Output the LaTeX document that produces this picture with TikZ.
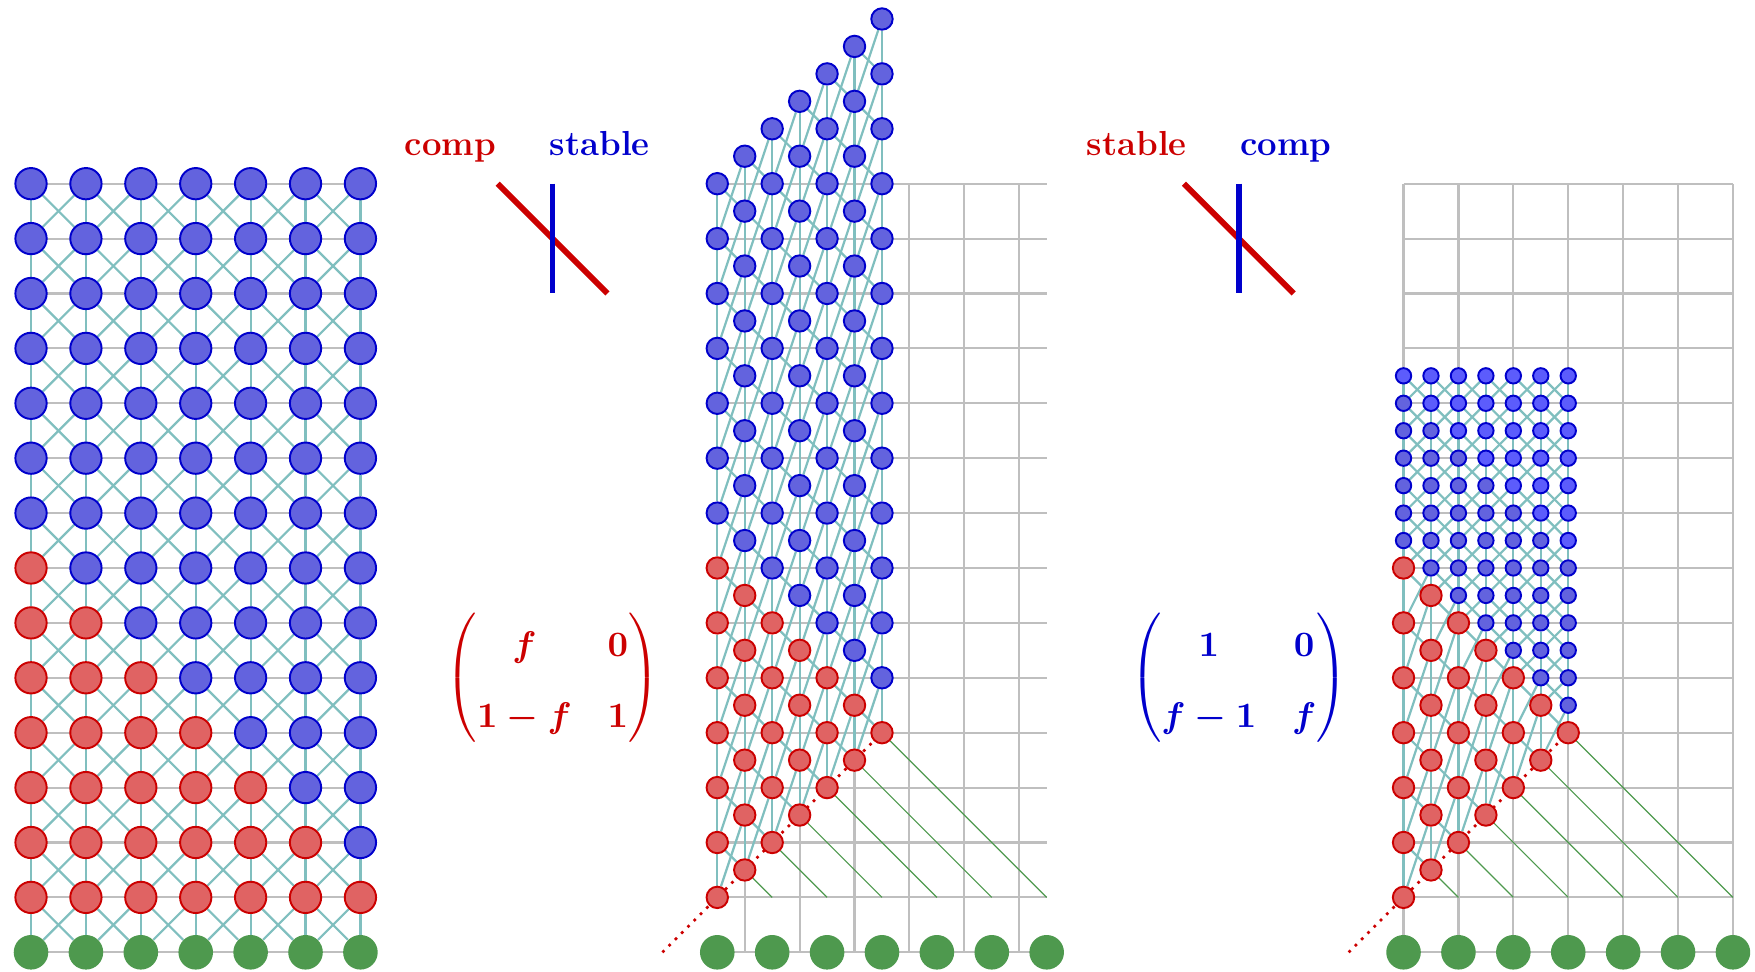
\documentclass[tikz,border=0pt]{standalone}
\usepackage{amsmath}
\usetikzlibrary{backgrounds}
\definecolor{cRedL}{RGB}{204,0,0}
\definecolor{cBlueL}{RGB}{0,0,204}
\definecolor{cRed}{RGB}{224,99,99}
\definecolor{cBlue}{RGB}{99,99,222}
\definecolor{cBlueB}{RGB}{92,92,252}
\definecolor{cGreen}{RGB}{78,153,78}
\definecolor{cBond}{RGB}{128,191,191}
\definecolor{cGrid}{RGB}{191,191,191}
\tikzset{
  site/.style={circle, inner sep=0pt, line width=1pt},
  siteL/.style={site, minimum size=5.7mm},
  siteS/.style={site, minimum size=3.9mm},
  siteT/.style={site, minimum size=2.8mm},
  ground/.style={circle, inner sep=0pt, fill=cGreen, minimum size=6.3mm},
  bond/.style={draw=cBond, line width=1.15pt},
  gridline/.style={draw=cGrid, line width=1.1pt},
  shiftline/.style={draw=cGreen, line width=0.6pt},
  cutline/.style={draw=cRedL, line width=1.4pt, dash pattern=on 1.4pt off 3.2pt},
  bar/.style={line width=3pt},
  tag/.style={font=\fontsize{18}{20}\selectfont\bfseries, anchor=base},
  mat/.style={scale=1.85},
}
\newcommand{\mxComp}{{\renewcommand{\arraystretch}{1.65}\boldmath$\begin{pmatrix} f & 0\\ 1-f & 1\end{pmatrix}$}}
\newcommand{\mxStab}{{\renewcommand{\arraystretch}{1.65}\boldmath$\begin{pmatrix} 1 & 0\\ f-1 & f\end{pmatrix}$}}

\begin{document}
\begin{tikzpicture}
\useasboundingbox (-0.565,-0.341) rectangle (31.402,17.346);

% ===== panel offsets =====
\def\xM{12.5}   % middle panel x
\def\xR{25}     % right panel x

% ===== left panel: original lattice =====
\foreach \i in {0,...,6} {
  \node[ground] (Lg-\i) at (\i,0) {};
  \foreach \j in {1,...,14} {
    \pgfmathtruncatemacro\s{\i+\j}
    \ifnum\s<8 \def\ec{cRedL}\def\fc{cRed}\else\def\ec{cBlueL}\def\fc{cBlue}\fi
    \node[siteL, draw=\ec, fill=\fc] (L-\i-\j) at (\i,\j) {};
  }
}

% ===== middle panel: sheared lattice =====
\foreach \i in {0,...,6} {
  \node[ground] (Mg-\i) at (\xM+\i,0) {};
  \coordinate (Mc-\i) at (\xM+\i,1);
  \foreach \j in {1,...,14} {
    \pgfmathtruncatemacro\s{\i+\j}
    \ifnum\s<8 \def\ec{cRedL}\def\fc{cRed}\else\def\ec{cBlueL}\def\fc{cBlue}\fi
    \node[siteS, draw=\ec, fill=\fc] (M-\i-\j) at (\xM+\i/2,\j+\i/2) {};
  }
}
\coordinate (Ms) at (\xM-1,0);

% ===== right panel: sheared + compressed lattice =====
\foreach \i in {0,...,6} {
  \node[ground] (Rg-\i) at (\xR+\i,0) {};
  \coordinate (Rc-\i) at (\xR+\i,1);
  \foreach \j in {1,...,14} {
    \pgfmathtruncatemacro\s{\i+\j}
    \ifnum\s<8
      \node[siteS, draw=cRedL, fill=cRed] (R-\i-\j) at (\xR+\i/2,\j+\i/2) {};
    \else
      \ifnum\s<14 \def\fc{cBlue}\else\def\fc{cBlueB}\fi
      \node[siteT, draw=cBlueL, fill=\fc] (R-\i-\j) at (\xR+\i/2,3.5+\j/2) {};
    \fi
  }
}
\coordinate (Rs) at (\xR-1,0);

% ===== symbols and labels =====
\coordinate (a1) at (8.5,14);  \coordinate (a2) at (10.5,12);
\coordinate (b1) at (9.5,14);  \coordinate (b2) at (9.5,12);
\draw[bar, cRedL] (a1) -- (a2);
\draw[bar, cBlueL] (b1) -- (b2);
\node[tag, text=cRedL] (compA) at (7.64,14.52) {comp};
\node[tag, text=cBlueL] (stabA) at (10.36,14.52) {stable};

\coordinate (c1) at (21,14);  \coordinate (c2) at (23,12);
\coordinate (d1) at (22,14);  \coordinate (d2) at (22,12);
\draw[bar, cRedL] (c1) -- (c2);
\draw[bar, cBlueL] (d1) -- (d2);
\node[tag, text=cRedL] (stabB) at (20.14,14.52) {stable};
\node[tag, text=cBlueL] (compB) at (22.86,14.52) {comp};

\node[mat, text=cRedL] (matA) at (9.5,5) {\mxComp};
\node[mat, text=cBlueL] (matB) at (22,5) {\mxStab};

% ===== grids, bonds, guides (behind the sites) =====
\begin{pgfonlayer}{background}
\draw[gridline] (0,0) grid (6,14);
\draw[gridline] (\xM,0) grid (\xM+6,14);
\draw[gridline] (\xR,0) grid (\xR+6,14);

% ground bonds, left only
\foreach \i in {0,...,6} {
  \draw[bond] (Lg-\i) -- (L-\i-1);
  \ifnum\i<6
    \pgfmathtruncatemacro\inext{\i+1}
    \draw[bond] (Lg-\i) -- (L-\inext-1);
    \draw[bond] (L-\i-1) -- (Lg-\inext);
  \fi
}

% lattice bonds
\foreach \p in {L,M,R} {
  \foreach \i in {0,...,6} {
    \foreach \j in {1,...,13} {
      \pgfmathtruncatemacro\jnext{\j+1}
      \draw[bond] (\p-\i-\j) -- (\p-\i-\jnext);
      \ifnum\i<6
        \pgfmathtruncatemacro\inext{\i+1}
        \draw[bond] (\p-\i-\j) -- (\p-\inext-\jnext);
        \draw[bond] (\p-\i-\jnext) -- (\p-\inext-\j);
      \fi
    }
  }
}

% shift guides
\foreach \i in {1,...,6} {
  \draw[shiftline] (M-\i-1) -- (Mc-\i);
  \draw[shiftline] (R-\i-1) -- (Rc-\i);
}
\draw[cutline] (Ms) -- (M-6-1);
\draw[cutline] (Rs) -- (R-6-1);
\end{pgfonlayer}

\end{tikzpicture}
\end{document}
